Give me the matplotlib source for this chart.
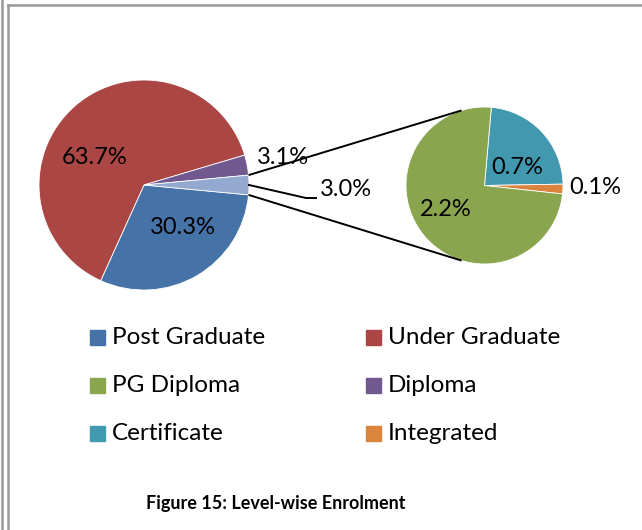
import numpy as np
import matplotlib.pyplot as plt
from matplotlib.patches import Rectangle

plt.rcParams['font.family'] = ['Lato', 'DejaVu Sans']

# main pie (clockwise from the "Other" split-off slice)
main_labels = ['Post Graduate', 'Under Graduate', 'Diploma', 'Other']
main_values = [30.3, 63.7, 3.1, 3.0]
# secondary pie (break-down of "Other")
sub_labels = ['Certificate', 'Integrated', 'PG Diploma']
sub_values = [0.70, 0.06, 2.24]

legend_order = ['Post Graduate', 'Under Graduate', 'PG Diploma',
                'Diploma', 'Certificate', 'Integrated']
colors = {'Post Graduate': '#4572A7', 'Under Graduate': '#AA4643',
          'PG Diploma': '#89A54E', 'Diploma': '#71588F',
          'Certificate': '#4198AF', 'Integrated': '#DB843D',
          'Other': '#93A9D0'}

W, H = 642, 530
fig = plt.figure(figsize=(W / 100, H / 100), dpi=100)
ax = fig.add_axes([0, 0, 1, 1])

def P(x, y):
    # pixel coords (y down) -> data coords
    return x, H - y

c1, r1 = P(144, 185), 105
c2, r2 = P(484.5, 185.5), 78.5

other_deg = main_values[3] / sum(main_values) * 360
ax.pie(main_values, colors=[colors[k] for k in main_labels], center=c1,
       radius=r1, startangle=-other_deg / 2, counterclock=False,
       wedgeprops=dict(edgecolor='white', linewidth=0.6))
ax.pie(sub_values, colors=[colors[k] for k in sub_labels], center=c2,
       radius=r2, startangle=85, counterclock=False,
       wedgeprops=dict(edgecolor='white', linewidth=0.6))

# connector lines between the pies
a = np.deg2rad(other_deg / 2)
b = np.deg2rad(107)
for s in (1, -1):
    ax.plot([c1[0] + r1 * np.cos(a), c2[0] + r2 * np.cos(b)],
            [c1[1] + s * r1 * np.sin(a), c2[1] + s * r2 * np.sin(b)],
            color='black', lw=1.4, solid_capstyle='butt')

# leader for the 3.0% label
ax.plot([c1[0] + r1, 306, 316], [c1[1], H - 198, H - 198],
        color='black', lw=1.4)

fs = 17
def lab(x, y, v):
    ax.text(*P(x, y), f'{v:.1f}%', fontsize=fs, ha='center', va='center')

lab(95, 157, main_values[1])
lab(183, 227, main_values[0])
lab(283, 158, main_values[2])
lab(346, 189, main_values[3])
lab(517, 168, sub_values[0])
lab(446, 210, sub_values[2])
lab(595, 188, sub_values[1])

# legend
for i, name in enumerate(legend_order):
    col, row = i % 2, i // 2
    x0 = 90 + col * 276
    yc = 337.5 + row * 48
    ax.add_patch(Rectangle(P(x0, yc + 7.5), 15, 15, color=colors[name]))
    ax.text(*P(x0 + 22, yc), name, fontsize=17.5, ha='left', va='center')

ax.text(*P(276, 503), 'Figure 15: Level-wise Enrolment', fontsize=13,
        fontweight='bold', ha='center', va='center')

# page borders
ax.plot([1.5, 1.5], [0, H], color='#999999', lw=1.8)
ax.plot([8, 8], [0, H - 5], color='#999999', lw=1.8)
ax.plot([8, W], [H - 5, H - 5], color='#999999', lw=1.8)

ax.set_xlim(0, W)
ax.set_ylim(0, H)
ax.set_aspect('auto')
ax.axis('off')
fig.savefig('out.png', dpi=100)
